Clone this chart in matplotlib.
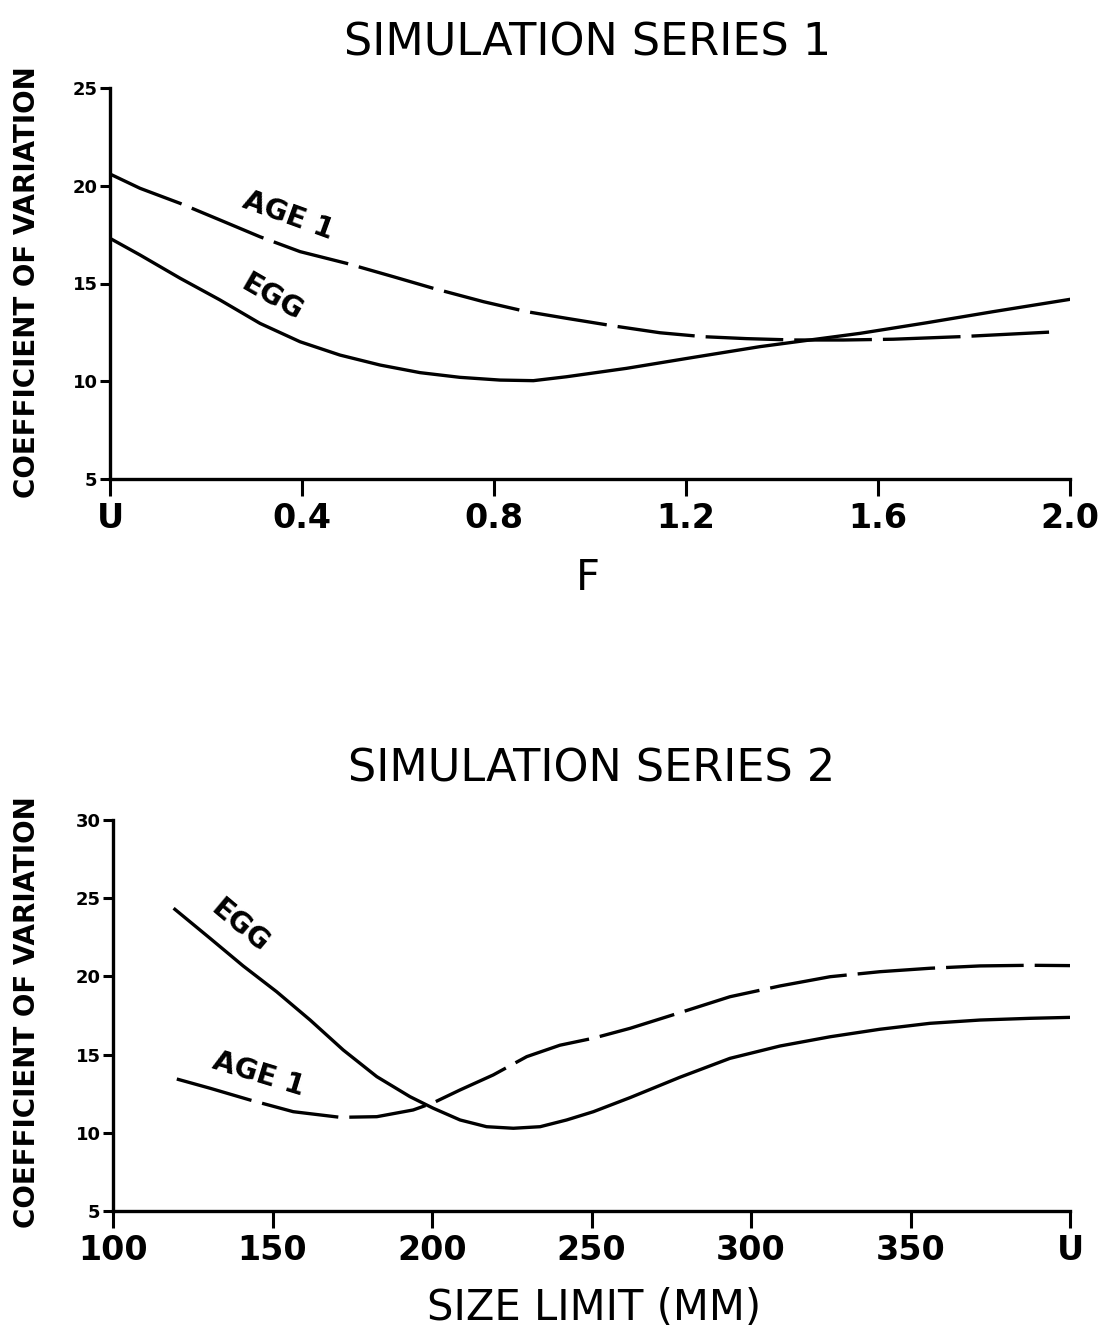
import matplotlib
matplotlib.use("Agg")
import matplotlib.pyplot as plt

# series 1: CV vs fishing mortality F (0 shown as "U")
f_age1 = [0.0, 0.0625, 0.146, 0.229, 0.3125, 0.396, 0.493, 0.590, 0.674, 0.778, 0.868, 0.951,
          1.049, 1.146, 1.236, 1.326, 1.424, 1.528, 1.632, 1.771, 1.979]
cv_age1_s1 = [20.60, 19.87, 19.10, 18.25, 17.39, 16.63, 16.03, 15.35, 14.75, 14.07, 13.56, 13.22,
              12.83, 12.48, 12.28, 12.18, 12.11, 12.11, 12.15, 12.28, 12.54]
f_egg = [0.0, 0.0625, 0.146, 0.229, 0.3125, 0.396, 0.479, 0.5625, 0.646, 0.729, 0.8125, 0.882,
         0.951, 1.076, 1.215, 1.354, 1.458, 1.5625, 1.701, 1.840, 2.0]
cv_egg_s1 = [17.31, 16.46, 15.27, 14.16, 12.96, 12.02, 11.34, 10.83, 10.44, 10.20, 10.06, 10.03,
             10.23, 10.66, 11.22, 11.77, 12.11, 12.45, 12.99, 13.56, 14.19]
f_ticks = [0.0, 0.4, 0.8, 1.2, 1.6, 2.0]
f_labels = ['U', '0.4', '0.8', '1.2', '1.6', '2.0']

# series 2: CV vs size limit (400 shown as "U")
sl_egg = [119.4, 130.4, 140.8, 151.3, 161.8, 172.2, 182.7, 193.1, 200.4, 208.8, 217.1, 225.5,
          233.9, 242.2, 250.6, 262.1, 277.7, 293.4, 309.1, 324.8, 340.4, 356.1, 371.8, 387.5, 400]
cv_egg_s2 = [24.29, 22.44, 20.67, 19.02, 17.21, 15.29, 13.59, 12.31, 11.57, 10.82, 10.39, 10.29,
             10.39, 10.82, 11.35, 12.25, 13.55, 14.76, 15.55, 16.14, 16.62, 17.00, 17.21, 17.32, 17.38]
sl_age1 = [120.0, 130.4, 142.9, 156.5, 171.2, 182.7, 194.1, 200.4, 208.8, 219.2, 229.7, 240.1,
           250.6, 262.1, 277.7, 293.4, 309.1, 324.8, 340.4, 356.1, 371.8, 387.5, 400]
cv_age1_s2 = [13.44, 12.85, 12.10, 11.35, 10.99, 11.03, 11.46, 11.92, 12.74, 13.70, 14.87, 15.60,
              16.05, 16.68, 17.68, 18.70, 19.39, 19.98, 20.30, 20.52, 20.67, 20.71, 20.69]
sl_ticks = [100, 150, 200, 250, 300, 350, 400]
sl_labels = ['100', '150', '200', '250', '300', '350', 'U']

W, H = 1107, 1332

fig = plt.figure(figsize=(W / 100, H / 100), dpi=100)


def px(x, y):
    return x / W, 1 - y / H


def style(ax, xticks, xlabels, ylim):
    for s in ['top', 'right']:
        ax.spines[s].set_visible(False)
    for s in ['left', 'bottom']:
        ax.spines[s].set_linewidth(2.4)
    ax.set_xticks(xticks)
    ax.set_xticklabels(xlabels, fontsize=24, fontweight='bold')
    yt = list(range(ylim[0], ylim[1] + 1, 5))
    ax.set_yticks(yt)
    ax.set_yticklabels([str(v) for v in yt], fontsize=13, fontweight='bold')
    ax.set_ylim(*ylim)
    ax.tick_params(axis='x', length=12.5, width=2.2, pad=4)
    ax.tick_params(axis='y', length=7, width=2.2, pad=2)


lw = 2.4
dash = (23.3, 3.3)
ann = dict(ha='center', va='center', fontsize=20.5, fontweight='bold')

# ---- top panel
ax1 = fig.add_axes([110 / W, 1 - 479 / H, 960 / W, 391 / H])
ax1.plot(f_age1, cv_age1_s1, color='black', lw=lw, dashes=dash)
ax1.plot(f_egg, cv_egg_s1, color='black', lw=lw)
ax1.set_xlim(0, 2.0)
style(ax1, f_ticks, f_labels, (5, 25))
ax1.text(0.371, 18.45, 'AGE 1', rotation=-20, **ann)
ax1.text(0.3375, 14.26, 'EGG', rotation=-30, **ann)

# ---- bottom panel
ax2 = fig.add_axes([113 / W, 1 - 1211 / H, 957 / W, 391 / H])
ax2.plot(sl_age1, cv_age1_s2, color='black', lw=lw, dashes=dash)
ax2.plot(sl_egg, cv_egg_s2, color='black', lw=lw)
ax2.set_xlim(100, 400)
style(ax2, sl_ticks, sl_labels, (5, 30))
ax2.text(139.8, 23.2, 'EGG', rotation=-40, **ann)
ax2.text(145.5, 13.76, 'AGE 1', rotation=-17, **ann)

# titles and axis labels
fig.text(*px(588, 55), 'SIMULATION SERIES 1', ha='center', va='baseline', fontsize=32)
fig.text(*px(592, 782), 'SIMULATION SERIES 2', ha='center', va='baseline', fontsize=32)
fig.text(*px(588, 590), 'F', ha='center', va='baseline', fontsize=30)
fig.text(*px(594, 1320), 'SIZE LIMIT (MM)', ha='center', va='baseline', fontsize=30)
fig.text(*px(27, 282), 'COEFFICIENT OF VARIATION', rotation=90, ha='center', va='center',
         fontsize=20, fontweight='bold')
fig.text(*px(27, 1012), 'COEFFICIENT OF VARIATION', rotation=90, ha='center', va='center',
         fontsize=20, fontweight='bold')

fig.savefig('out.png', dpi=100)
